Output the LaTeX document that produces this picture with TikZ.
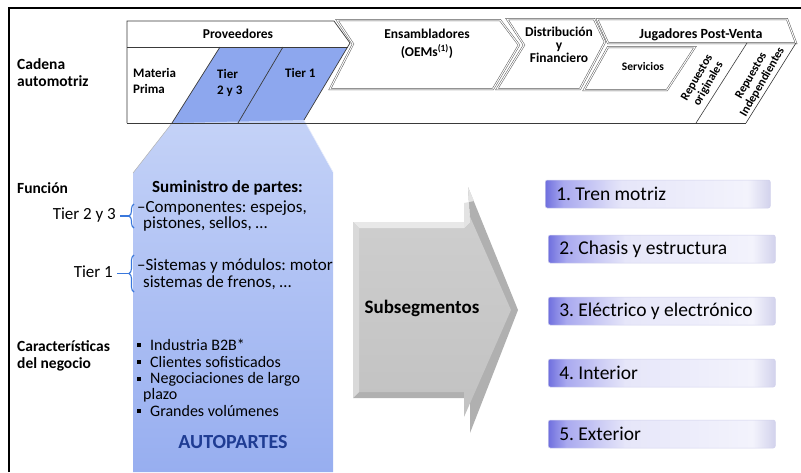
\documentclass[tikz,border=0pt]{standalone}
\usepackage{fontspec}
\setmainfont{Carlito}
\usetikzlibrary{decorations.pathreplacing}
\definecolor{barblue}{HTML}{8DA7EE}
\definecolor{housetop}{HTML}{C4D2F7}
\definecolor{housebot}{HTML}{97AEF0}
\definecolor{autoblue}{HTML}{1F3C93}
\definecolor{bracecol}{HTML}{3A78DC}
\definecolor{lineg}{HTML}{3A3A3A}
\definecolor{segA}{HTML}{6F6FDE}
\definecolor{segB}{HTML}{A9A9EF}
\definecolor{segC}{HTML}{E6E6F9}
\definecolor{segD}{HTML}{F3F3FC}
\definecolor{segE}{HTML}{D2D2EC}
\pgfdeclarehorizontalshading{segshade}{100bp}{color(0bp)=(segA); color(25bp)=(segA); color(29bp)=(segB); color(42bp)=(segC); color(70bp)=(segD); color(75bp)=(segE); color(100bp)=(segE)}
\newcommand\fsz[2]{\fontsize{#1}{#2}\selectfont}
\begin{document}
\frenchspacing
\begin{tikzpicture}[x=1pt,y=-1pt,
  barline/.style={draw=lineg, line width=0.7pt},
  dbl/.style={draw=gray!70!black, line width=0.5pt, double=white, double distance=1pt, fill=white},
  hdr/.style={inner sep=0pt, font=\bfseries\fsz{13.5}{16}, align=center},
  small/.style={inner sep=0pt, font=\bfseries\fsz{11.5}{12}, align=center},
  side/.style={inner sep=0pt, anchor=west, font=\bfseries\fsz{15.5}{17}, align=left},
  body/.style={inner sep=0pt, anchor=west, font=\fsz{17}{17}},
  bodyb/.style={inner sep=0pt, anchor=west, font=\bfseries\fsz{17}{17}},
  bul/.style={inner sep=0pt, anchor=west, font=\fsz{16}{16}},
  tierlbl/.style={inner sep=0pt, anchor=east, font=\fsz{17}{17}},
  brc/.style={draw=bracecol, line width=1.1pt, decorate, decoration={brace, amplitude=5pt}},
  segbox/.style={rounded corners=2pt, draw=segE, line width=0.5pt, shading=segshade, anchor=west, text width=205pt, align=flush left, inner xsep=11pt, minimum height=28pt, inner ysep=0pt, font=\fsz{19.5}{20}}
]
\useasboundingbox (0,0) rectangle (801,472);
% frame
\draw[line width=2pt] (9,472) -- (9,8) -- (801,8);

% ---------- value chain bar ----------
\fill[white] (127,21) -- (334,21) -- (350,43) -- (302,123) -- (127,123) -- cycle;
\fill[barblue] (220,47) -- (347.6,47) -- (304,120) -- (302,123) -- (172,123) -- cycle;
\shade[top color=housetop, bottom color=housebot] (172,123) -- (304,120) -- (333,172) -- (333,472) -- (133,472) -- (133,173) -- cycle;
\draw[gray!60, line width=0.5pt] (172,123) -- (133,173);
\draw[white!80!barblue, line width=0.6pt] (304,120) -- (333,172);
\draw[barline] (350,43) -- (334,21) -- (127,21) -- (127,123);
\draw[barline] (350,43) -- (304,120);
\draw[barline] (127,47) -- (347.6,47);
\draw[barline] (220,47) -- (172,123);
\draw[barline] (283,47) -- (238,123);
\draw[barline] (127,123) -- (746,123);

% Ensambladores
\draw[dbl] (337,20) -- (500,20) -- (519,45) -- (493,89) -- (330,89) -- (353,44) -- cycle;
% Distribucion
\draw[dbl] (507,19) -- (594,19) -- (605,42) -- (580,89) -- (497,89) -- (524,45) -- cycle;
% Post-venta header
\draw[dbl] (597,19) -- (787,19) -- (796,43) -- (608,43) -- cycle;
% Servicios
\draw[dbl] (608,47) -- (695,47) -- (667,90) -- (584,90) -- cycle;
% Post-venta lower slants
\draw[barline, line width=0.6pt] (796,43) -- (746,123);
\draw[barline, line width=0.6pt] (747,43) -- (696,123);

% bar texts
\node[hdr] (prov) at (238,34) {Proveedores};
\node[inner sep=0pt, anchor=west, font=\bfseries\fsz{13}{16}, align=left] (mat) at (133,81) {Materia\\Prima};
\node[inner sep=0pt, anchor=west, font=\bfseries\fsz{13}{16}, align=left] (t23) at (217,83) {Tier\\2 y 3};
\node[inner sep=0pt, anchor=west, font=\bfseries\fsz{13}{16}] (t1) at (285,73) {Tier 1};
\node[hdr, font=\bfseries\fsz{13.5}{18}] (ens) at (427,44) {Ensambladores\\(OEMs\textsuperscript{(1)})};
\node[hdr, font=\bfseries\fsz{13.5}{13}] (dist) at (559,45) {Distribución\\y\\Financiero};
\node[hdr, font=\bfseries\fsz{14}{16}] (post) at (701,35) {Jugadores Post-Venta};
\node[small] (serv) at (643,67) {Servicios};
\node[small, rotate=60, font=\bfseries\fsz{12}{13}] (ro) at (703,81) {Repuestos\\originales};
\node[small, rotate=60, font=\bfseries\fsz{12}{13}] (ri) at (757,79) {Repuestos\\Independientes};

% ---------- left labels ----------
\node[side] (cad) at (17,73) {Cadena\\automotriz};
\node[side] (fun) at (17,188) {Función};
\node[side] (car) at (17,356) {Características\\del negocio};

% ---------- function text ----------
\node[bodyb] (sum) at (152,188) {Suministro de partes:};
\node[body] (c1) at (137,208) {–Componentes: espejos,};
\node[body] (c2) at (143,224) {pistones, sellos, …};
\node[body] (s1) at (137,266) {–Sistemas y módulos: motor};
\node[body] (s2) at (143,283) {sistemas de frenos, …};
\node[tierlbl] (lt23) at (116,215) {Tier 2 y 3};
\node[tierlbl] (lt1) at (113,272) {Tier 1};
\coordinate (b1a) at (134,228);
\coordinate (b1b) at (134,204);
\coordinate (b2a) at (134,292);
\coordinate (b2b) at (134,255);
\coordinate (k1a) at (120,216);
\coordinate (k1b) at (129,216);
\coordinate (k2a) at (117,273.5);
\coordinate (k2b) at (129,273.5);
\draw[brc] (b1a) -- (b1b);
\draw[brc] (b2a) -- (b2b);
\draw[draw=bracecol, line width=1.1pt] (k1a) -- (k1b);
\draw[draw=bracecol, line width=1.1pt] (k2a) -- (k2b);

% ---------- characteristics ----------
\node[bul] (i1) at (150,345) {Industria B2B*};
\node[bul] (i2) at (150,362) {Clientes sofisticados};
\node[bul] (i3) at (150,379) {Negociaciones de largo};
\node[bul] (i3b) at (143,395) {plazo};
\node[bul] (i4) at (150,411) {Grandes volúmenes};
\foreach \yy in {345,362,379,411}{
  \fill (137,\yy-2) rectangle ++(3.6,3.6);
}
\node[inner sep=0pt, font=\bfseries\fsz{20}{20}, text=autoblue] (auto) at (233,442) {AUTOPARTES};

% ---------- Subsegmentos arrow ----------
\fill[gray!62] (353,222) -- (470,222) -- (468,187) -- (518,310) -- (470,433) -- (470,398) -- (353,398) -- cycle;
\shade[top color=gray!38, bottom color=gray!48] (359,228) -- (464,228) -- (464,203) -- (511,310) -- (464,417) -- (464,392) -- (359,392) -- cycle;
\fill[gray!18] (353,222) -- (470,222) -- (464,228) -- (359,228) -- cycle;
\fill[gray!30] (353,222) -- (359,228) -- (359,392) -- (353,398) -- cycle;
\fill[gray!22] (468,187) -- (474,201) -- (464,203) -- (464,228) -- (470,222) -- cycle;
\node[inner sep=0pt, font=\bfseries\fsz{19}{19}] (subs) at (422,308) {Subsegmentos};

% ---------- subsegment boxes ----------
\node[segbox, text width=203pt] (seg1) at (545,194) {1. Tren motriz};
\node[segbox] (seg2) at (548,249) {2. Chasis y estructura};
\node[segbox] (seg3) at (548,311) {3. Eléctrico y electrónico};
\node[segbox] (seg4) at (548,373) {4. Interior};
\node[segbox] (seg5) at (548,434) {5. Exterior};
\end{tikzpicture}
\end{document}
